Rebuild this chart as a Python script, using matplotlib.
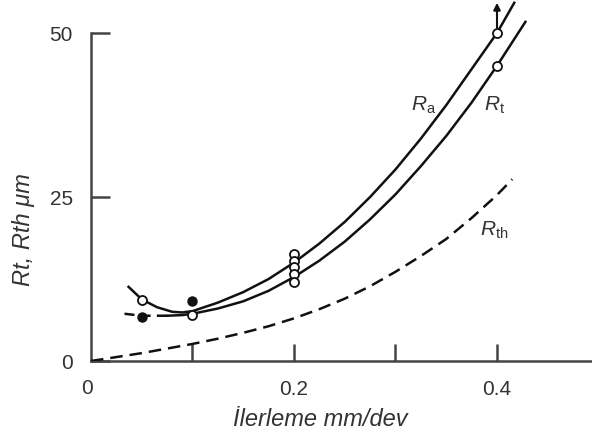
import matplotlib
matplotlib.use("Agg")
import matplotlib.pyplot as plt

plt.rcParams["font.family"] = ["Liberation Sans", "DejaVu Sans"]
plt.rcParams["mathtext.fontset"] = "custom"
plt.rcParams["mathtext.rm"] = "Liberation Sans"
plt.rcParams["mathtext.it"] = "Liberation Sans:italic"

# measured surface roughness (open / filled markers)
open_x = [0.05, 0.1, 0.2, 0.2, 0.2, 0.2, 0.2, 0.4, 0.4]
open_y = [9.3, 7.0, 16.3, 15.3, 14.3, 13.2, 12.0, 50.0, 45.0]
filled_x = [0.05, 0.1]
filled_y = [6.7, 9.1]

# Ra curve
ra_x = [0.037, 0.05, 0.065, 0.08, 0.09, 0.1, 0.125, 0.15, 0.175, 0.2, 0.225,
        0.25, 0.275, 0.3, 0.325, 0.35, 0.375, 0.4, 0.417]
ra_y = [11.3, 9.4, 8.2, 7.5, 7.4, 7.6, 8.9, 10.5, 12.5, 15.0, 17.9,
        21.2, 25.0, 29.2, 33.9, 39.0, 44.5, 50.0, 54.6]

# Rt curve (dashed start at low feed)
rt_dash_x = [0.033, 0.05, 0.075]
rt_dash_y = [7.2, 6.9, 6.9]
rt_x = [0.075, 0.09, 0.1, 0.125, 0.15, 0.175, 0.2, 0.225, 0.25, 0.275,
        0.3, 0.325, 0.35, 0.375, 0.4, 0.428]
rt_y = [6.9, 7.0, 7.2, 8.0, 9.1, 10.7, 12.8, 15.3, 18.2, 21.6,
        25.4, 29.7, 34.3, 39.4, 45.0, 51.7]

# theoretical Rth
rth_x = [0.0, 0.025, 0.05, 0.075, 0.1, 0.125, 0.15, 0.175, 0.2, 0.225,
         0.25, 0.275, 0.3, 0.325, 0.35, 0.375, 0.4, 0.415]
rth_y = [0.0, 0.6, 1.2, 1.9, 2.6, 3.4, 4.3, 5.3, 6.5, 7.9,
         9.5, 11.4, 13.6, 16.0, 18.6, 21.8, 25.3, 27.7]

x_ticks = [0.1, 0.2, 0.3, 0.4]
x_labels = ["", "0.2", "", "0.4"]
y_ticks = [0, 25, 50]

line_c = "#111111"
axis_c = "#444444"
text_c = "#333333"

fig = plt.figure(figsize=(5.92, 4.39), dpi=100)
ax = fig.add_axes([91 / 592, 77 / 439, 1 - 91 / 592, 1 - 77 / 439])
ax.set_xlim(0, 0.4936)
ax.set_ylim(0, 55.18)

ax.plot(ra_x, ra_y, color=line_c, lw=1.8, zorder=3)
ax.plot(rt_x, rt_y, color=line_c, lw=1.8, zorder=3)
ax.plot(rt_dash_x, rt_dash_y, color=line_c, lw=1.8, ls=(0, (4, 2.5)), zorder=3)
ax.plot(rth_x, rth_y, color=line_c, lw=1.8, ls=(0, (5, 2.8)), zorder=3)

ax.plot(open_x, open_y, "o", ms=6.5, mfc="white", mec=line_c, mew=1.3, zorder=4)
ax.plot(filled_x, filled_y, "o", ms=6.5, mfc=line_c, mec=line_c, zorder=4)

ax.annotate("", xy=(0.4, 54.6), xytext=(0.4, 50.8),
            arrowprops=dict(arrowstyle="-|>", color=line_c, lw=1.5,
                            mutation_scale=10, shrinkA=0, shrinkB=0),
            annotation_clip=False, zorder=5)

lab = dict(color=text_c, fontsize=15)
ax.text(0.315, 38.3, r"$\mathit{R}_{\mathrm{a}}$", **lab)
ax.text(0.387, 38.3, r"$\mathit{R}_{\mathrm{t}}$", **lab)
ax.text(0.383, 19.3, r"$\mathit{R}_{\mathrm{th}}$", **lab)

for side in ("top", "right"):
    ax.spines[side].set_visible(False)
for side in ("left", "bottom"):
    ax.spines[side].set_color(axis_c)
    ax.spines[side].set_linewidth(1.8)
ax.spines["left"].set_bounds(0, 50)

ax.set_xticks(x_ticks)
ax.set_xticklabels(x_labels)
ax.set_yticks(y_ticks)
ax.tick_params(axis="x", direction="in", length=12, width=1.8, color=axis_c,
               labelsize=15, labelcolor=text_c, pad=13)
ax.tick_params(axis="y", direction="in", length=14, width=1.8, color=axis_c,
               labelsize=15, labelcolor=text_c, pad=13)
ax.text(-0.004, -2.6, "0", ha="center", va="top", fontsize=15, color=text_c)

ax.set_xlabel("İlerleme mm/dev", fontsize=17, style="italic", color=text_c)
ax.set_ylabel("Rt, Rth μm", fontsize=17, style="italic", color=text_c)
ax.xaxis.set_label_coords(0.457, -0.127)
ax.yaxis.set_label_coords(-0.112, 0.367)

fig.savefig("out.png", dpi=100)
